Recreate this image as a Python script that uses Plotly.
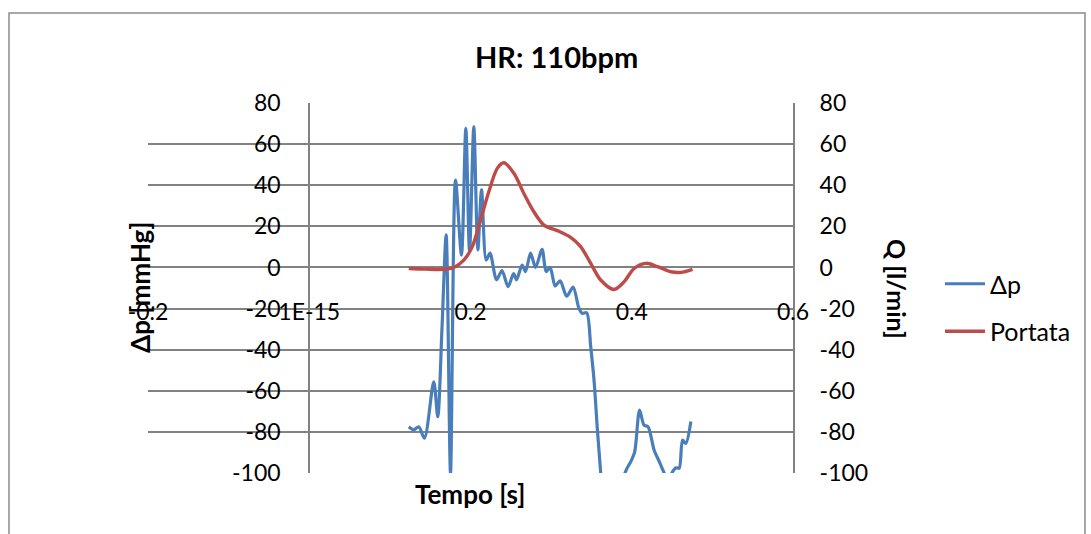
import plotly.graph_objects as go

# Pressure difference Δp [mmHg] over time [s]
t_dp = [0.1234, 0.1296, 0.1358, 0.1429, 0.1544, 0.1594, 0.1646, 0.1698, 0.1752,
        0.1814, 0.1888, 0.1942, 0.1988, 0.2041, 0.2091, 0.2137, 0.2195, 0.2242,
        0.2323, 0.2391, 0.2466, 0.2534, 0.2571, 0.2640, 0.2683, 0.2745, 0.2807,
        0.2888, 0.2938, 0.2988, 0.3050, 0.3112, 0.3193, 0.3273, 0.3342, 0.3385,
        0.3441, 0.3491, 0.3532, 0.3574, 0.3615, 0.3665, 0.3764, 0.3863, 0.3938,
        0.3988, 0.4037, 0.4097, 0.4152, 0.4202, 0.4277, 0.4342, 0.4404, 0.4447,
        0.4506, 0.4547, 0.4588, 0.4630, 0.4671, 0.4733]
dp = [-77.5, -79.0, -77.5, -83.1, -55.6, -72.6, -30.0, 15.8, -100.0,
      42.5, 6.0, 67.7, 7.6, 68.5, 8.5, 37.7, 3.6, 7.0,
      -6.0, -1.5, -9.4, -3.0, -6.0, 1.2, -2.0, 7.0, 0.0,
      8.8, -2.0, 0.0, -9.0, -6.5, -14.0, -9.5, -19.5, -22.3,
      -22.0, -38.6, -54.8, -79.0, -100.0, -128.0, -122.0, -106.0, -98.0,
      -94.5, -89.6, -69.4, -76.7, -77.5, -88.8, -94.5, -100.2, -104.0,
      -99.4, -97.5, -97.7, -84.0, -85.6, -75.0]

# Flow rate Q [l/min] over time [s]
t_q = [0.1234, 0.1441, 0.1668, 0.1793, 0.1917, 0.2021, 0.2124, 0.2227, 0.2332,
       0.2414, 0.2538, 0.2662, 0.2786, 0.2911, 0.3077, 0.3242, 0.3366, 0.3491,
       0.3615, 0.3780, 0.3904, 0.4029, 0.4174, 0.4319, 0.4484, 0.4609, 0.4754]
q = [-0.5, -0.8, -0.9, 0.0, 3.6, 10.0, 23.0, 36.8, 48.2,
     50.9, 45.8, 36.0, 27.1, 20.6, 17.9, 14.6, 10.1, 2.0,
     -6.1, -10.7, -7.0, -0.5, 2.0, 0.4, -2.1, -2.4, -0.9]

x_tickvals = [-0.2, 0.0, 0.2, 0.4, 0.6]
x_ticktext = ["-0.2", "1E-15", "0.2", "0.4", "0.6"]
y_tickvals = [-100, -80, -60, -40, -20, 0, 20, 40, 60, 80]
y_ticktext = ["-100", "-80", "-60", "-40", "-20", "0", "20", "40", "60", "80"]

FONT = "Lato, 'Open Sans', sans-serif"
GRID = "#828282"
BLUE = "#4a7ebb"
RED = "#be4b48"

fig = go.Figure()
fig.add_trace(go.Scatter(
    x=t_dp, y=dp, name="Δp", mode="lines",
    line=dict(color=BLUE, width=3.2, shape="spline", smoothing=0.8),
    legendgroup="a", yaxis="y"))
fig.add_trace(go.Scatter(
    x=t_q, y=q, name="Portata", mode="lines",
    line=dict(color=RED, width=3.4, shape="spline", smoothing=0.9),
    legendgroup="b", yaxis="y2"))

W, H = 1091, 534
L, R, T, B = 148, 298, 103, 61
pw, ph = W - L - R, H - T - B


def px(xp):
    return (xp - L) / pw


def py(yp):
    return (H - B - yp) / ph


def label(text, x, y, size, angle=0):
    return dict(text=text, x=px(x), y=py(y), xref="paper", yref="paper",
                xanchor="center", yanchor="middle", showarrow=False,
                textangle=angle, font=dict(size=size, family=FONT))


fig.update_layout(
    width=W, height=H,
    margin=dict(l=L, r=R, t=T, b=B, pad=0),
    paper_bgcolor="white", plot_bgcolor="white",
    font=dict(family=FONT, size=22, color="black"),
    showlegend=True,
    legend=dict(x=px(940), y=py(261), xanchor="left", yanchor="top",
                font=dict(size=25, family=FONT), tracegroupgap=12,
                traceorder="grouped", bgcolor="rgba(0,0,0,0)",
                itemwidth=40),
    xaxis=dict(range=[-0.2, 0.6], showgrid=False, zeroline=False,
               showline=False, tickvals=x_tickvals, ticktext=x_ticktext,
               ticks="", anchor="free", position=py(296),
               tickfont=dict(size=23, family=FONT)),
    yaxis=dict(range=[-100, 80], tickvals=y_tickvals, ticktext=y_ticktext,
               showgrid=True, gridcolor=GRID, gridwidth=2, zeroline=False,
               showline=True, linecolor=GRID, linewidth=2,
               anchor="free", position=0.25, ticks="", ticklabelstandoff=23,
               tickfont=dict(size=23, family=FONT)),
    yaxis2=dict(range=[-100, 80], tickvals=y_tickvals, ticktext=y_ticktext,
                overlaying="y", side="right", anchor="x", showgrid=False,
                zeroline=False, showline=True, linecolor=GRID, linewidth=2,
                ticks="", ticklabelstandoff=20,
                tickfont=dict(size=23, family=FONT)),
    shapes=[dict(type="rect", xref="paper", yref="paper",
                 x0=px(9), x1=px(1085), y0=py(560), y1=py(13),
                 line=dict(color="#8c8c8c", width=1.5), layer="below")],
    annotations=[
        label("<b>HR: 110bpm</b>", 556, 57, 29),
        label("<b>Tempo [s]</b>", 470, 494, 26),
        label("<b>Δp [mmHg]</b>", 140, 288, 26, -90),
        label("<b>Q [l/min]</b>", 897, 289, 25, 90),
    ],
)

fig.write_html("out.html")
